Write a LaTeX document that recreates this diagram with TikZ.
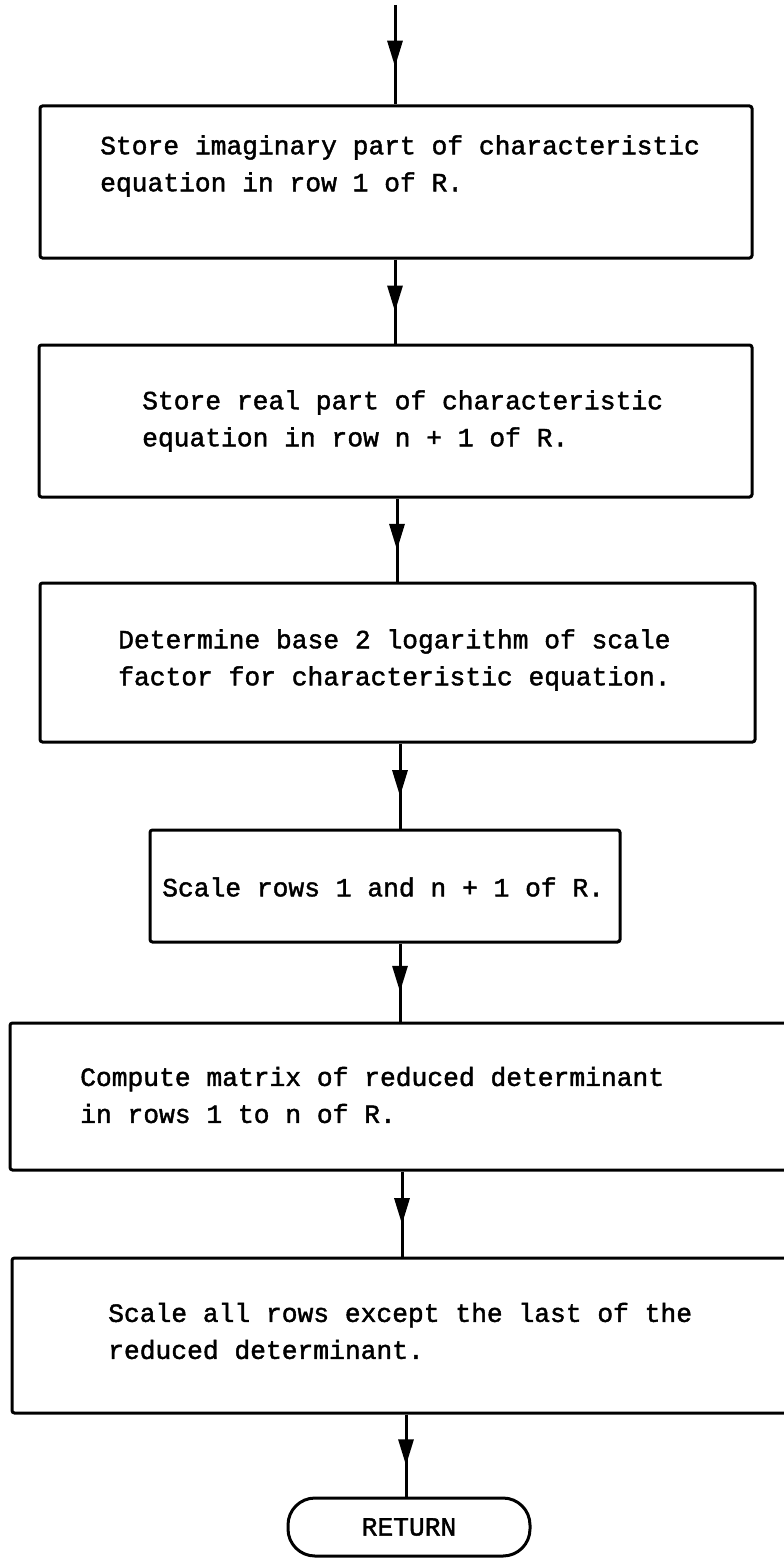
\documentclass[tikz,border=0pt]{standalone}
\usepackage{fontspec}
\newfontfamily\typewriter[FakeBold=1.6]{Liberation Mono}
\usetikzlibrary{arrows.meta,decorations.markings}

\tikzset{
  procbox/.style={draw, line width=3pt, rounded corners=2.5pt, inner sep=0pt},
  termbox/.style={draw, line width=3pt, rounded corners=27pt, inner sep=0pt},
  typed/.style={inner sep=0pt, align=left,
    font=\typewriter\fontsize{26.3}{37}\selectfont},
  flow/.style={line width=3pt, postaction={decorate},
    decoration={markings,
      mark=at position 0.62 with {\arrow{Triangle[length=26pt,width=15pt]}}}}
}

\begin{document}
\begin{tikzpicture}[x=1pt,y=-1pt]
  \useasboundingbox (0,0) rectangle (784,1560);
  \clip (0,0) rectangle (784,1560);

  % process boxes
  \node[procbox, minimum width=712pt, minimum height=152pt] (b1) at (396,182) {};
  \node[procbox, minimum width=713pt, minimum height=152pt] (b2) at (395.5,421) {};
  \node[procbox, minimum width=715pt, minimum height=159pt] (b3) at (397.5,662.5) {};
  \node[procbox, minimum width=470pt, minimum height=112pt] (b4) at (385,886) {};
  \node[procbox, minimum width=790pt, minimum height=147pt] (b5) at (405,1096.5) {};
  \node[procbox, minimum width=788pt, minimum height=155pt] (b6) at (406,1335.5) {};
  \node[termbox, minimum width=242pt, minimum height=58pt] (ret) at (409,1527) {};

  % box texts
  \node[typed, anchor=west] (t1) at (100,166)
    {Store imaginary part of characteristic\\equation in row 1 of R.};
  \node[typed, anchor=west] (t2) at (142,421)
    {Store real part of characteristic\\equation in row n + 1 of R.};
  \node[typed, anchor=west] (t3) at (118,660)
    {Determine base 2 logarithm of scale\\factor for characteristic equation.};
  \node[typed, anchor=west] (t4) at (162,887)
    {Scale rows 1 and n + 1 of R.};
  \node[typed, anchor=west] (t5) at (80,1095)
    {Compute matrix of reduced determinant\\in rows 1 to n of R.};
  \node[typed, anchor=west] (t6) at (108,1331)
    {Scale all rows except the last of the\\reduced determinant.};
  \node[typed, anchor=center] (tr) at (ret.center) {RETURN};

  % connector columns
  \coordinate (entry) at (395,5);
  \coordinate (x2) at (395,0);
  \coordinate (x3) at (397,0);
  \coordinate (x4) at (400,0);
  \coordinate (x5) at (400,0);
  \coordinate (x6) at (402,0);
  \coordinate (x7) at (406,0);

  % connectors
  \draw[flow] (entry) -- (b1.north -| entry);
  \draw[flow] (b1.south -| x2) -- (b2.north -| x2);
  \draw[flow] (b2.south -| x3) -- (b3.north -| x3);
  \draw[flow] (b3.south -| x4) -- (b4.north -| x4);
  \draw[flow] (b4.south -| x5) -- (b5.north -| x5);
  \draw[flow] (b5.south -| x6) -- (b6.north -| x6);
  \draw[flow] (b6.south -| x7) -- (ret.north -| x7);
\end{tikzpicture}
\end{document}
